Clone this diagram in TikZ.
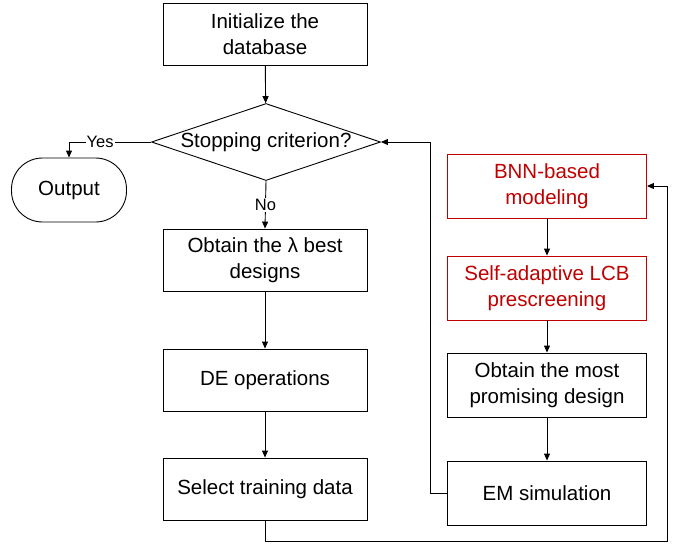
\documentclass[tikz,border=0pt]{standalone}
\usepackage{fontspec}
\setmainfont{Liberation Sans}
\usetikzlibrary{shapes.geometric, arrows.meta}
\definecolor{darkred}{RGB}{192,0,0}
\tikzset{arrow/.style = {line width=0.9pt,-{Triangle[length=7pt,width=6pt]}}}
\tikzset{process/.style = {rectangle, draw, line width=0.9pt, minimum width=204pt, minimum height=62pt, align=center, font=\fontsize{20.5}{26}\selectfont}}
\tikzset{sideprocess/.style = {process, minimum width=199pt, minimum height=64pt}}
\tikzset{redprocess/.style = {sideprocess, draw=darkred, text=darkred}}
\tikzset{decision/.style = {diamond, draw, line width=0.9pt, minimum width=229pt, minimum height=77pt, inner sep=0pt, font=\fontsize{20.5}{26}\selectfont}}
\tikzset{terminal/.style = {rectangle, rounded corners=31pt, draw, line width=0.9pt, minimum width=115pt, minimum height=64pt, font=\fontsize{20.5}{26}\selectfont}}
\tikzset{lbl/.style = {fill=white, inner sep=1pt, font=\fontsize{16.5}{20}\selectfont}}

\begin{document}
\begin{tikzpicture}[x=1pt,y=-1pt]
\useasboundingbox (0,0) rectangle (678,544);

% left column
\node[process] (init) at (265,34) {Initialize the\\database};
\node[decision] (stop) at (266,142) {\makebox[0pt]{Stopping criterion?}};
\node[terminal] (out) at (69,190) {Output};
\node[process] (best) at (265,260) {Obtain the λ best\\designs};
\node[process] (deop) at (265,380) {DE operations};
\node[process] (sel) at (265,489) {Select training data};

% right column
\node[redprocess] (bnn) at (547,186) {BNN-based\\modeling};
\node[redprocess] (lcb) at (547,288) {Self-adaptive LCB\\prescreening};
\node[sideprocess] (prom) at (547,385) {Obtain the most\\promising design};
\node[sideprocess] (em) at (547,493) {EM simulation};

\coordinate (emleft) at (430,493);
\coordinate (loopbr) at (667,541);

\draw[arrow] (init) -- (stop);
\draw[arrow] (stop.west) -| node[lbl, pos=0.31] {Yes} (out.north);
\draw[arrow] (stop.south) -- node[lbl] {No} (best.north);
\draw[arrow] (best) -- (deop);
\draw[arrow] (deop) -- (sel);

\draw[arrow] (bnn) -- (lcb);
\draw[arrow] (lcb) -- (prom);
\draw[arrow] (prom) -- (em);

% loops
\draw[arrow] (em.west) -- (emleft) |- (stop.east);
\draw[arrow] (sel.south) |- (loopbr) |- (bnn.east);

\end{tikzpicture}
\end{document}
